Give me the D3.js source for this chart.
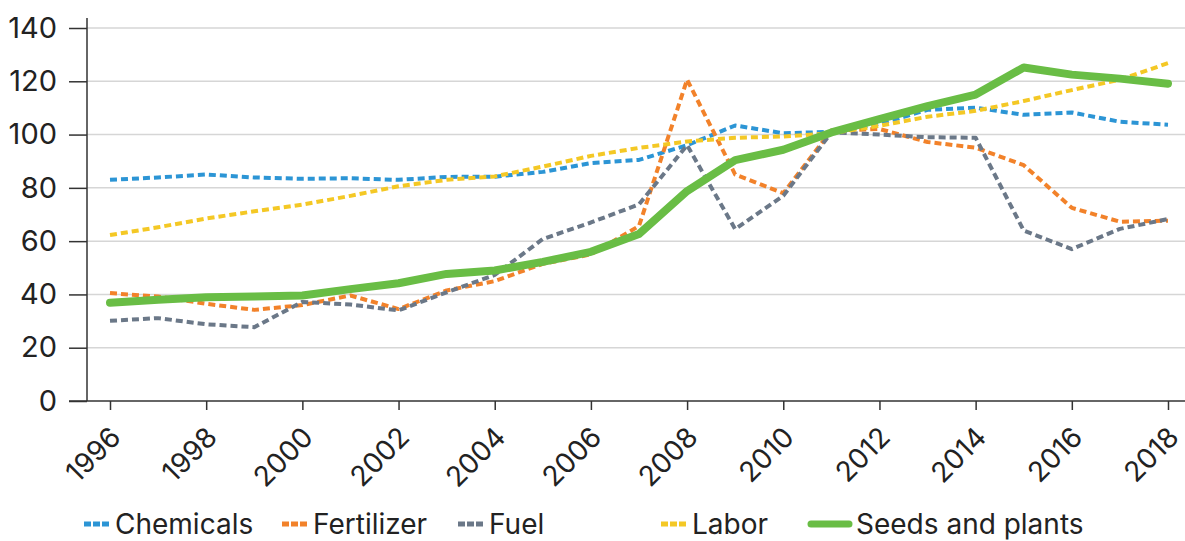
<!DOCTYPE html>
<html>
<head>
<meta charset="utf-8">
<script src="https://cdn.jsdelivr.net/npm/d3@7"></script>
<style>
  html, body { margin: 0; padding: 0; background: #fff; }
  #chart { width: 1185px; height: 541px; }
  text { font-family: Inter, "Noto Sans", sans-serif; fill: #222; }
</style>
</head>
<body>
<div id="chart"></div>
<script>
const years = d3.range(1996, 2019);
const yTicks = [0, 20, 40, 60, 80, 100, 120, 140];
const xTicks = [1996, 1998, 2000, 2002, 2004, 2006, 2008, 2010, 2012, 2014, 2016, 2018];

const seriesNames = ["Chemicals", "Fertilizer", "Fuel", "Labor", "Seeds and plants"];

const chemicals = [83, 83.9, 85, 83.9, 83.4, 83.6, 83, 84.1, 84.2, 86, 89.3, 90.5, 96, 103.4, 100.5, 101, 104, 109.3, 110.1, 107.4, 108.3, 104.8, 103.7];
const fertilizer = [40.5, 39.2, 36.5, 34.2, 36, 39.6, 34.5, 41.5, 45, 51.5, 55, 65.7, 120.6, 85, 78, 101.5, 102.1, 97.2, 95.1, 88.5, 72.5, 67.3, 67.7];
const fuel = [30.1, 31.1, 28.8, 27.7, 37.2, 36.2, 34, 40.8, 47.3, 60.8, 67, 73.8, 96, 64.5, 77, 100.8, 100, 99, 98.8, 64, 57, 64.6, 68.3];
const labor = [62.3, 65.2, 68.5, 71.2, 73.7, 77, 80.6, 83, 84.3, 88, 92, 95, 97.4, 98.8, 99.3, 100.5, 103.3, 106.7, 108.9, 112.6, 116.7, 120.6, 126.8];
const seeds = [36.9, 38, 38.9, 39.2, 39.6, 42, 44.2, 47.7, 49, 52.2, 56, 62.7, 78.8, 90.4, 94.3, 100.8, 105.8, 110.7, 115, 125.2, 122.5, 121, 119.1];

class LineChartD3 {
    width = 1185;
    height = 541;
    svg;

    constructor(el) {
        this.el = el;
    }

    styleFor(name) {
        switch (name) {
            case "Chemicals":
                return {color: "#2c95d5", width: 4, dash: "7,4"};
            case "Fertilizer":
                return {color: "#f2822a", width: 4, dash: "7,4"};
            case "Fuel":
                return {color: "#6b7888", width: 4, dash: "7,4"};
            case "Labor":
                return {color: "#f4c825", width: 4, dash: "7,4"};
            default:
                return {color: "#69bd45", width: 8, dash: null};
        }
    }

    create() {
        this.svg = d3.select(this.el)
            .append("svg")
            .attr("width", this.width)
            .attr("height", this.height);

        this.x = d3.scaleLinear().domain([1996, 2018]).range([110, 1168]);
        this.y = d3.scaleLinear().domain([0, 140]).range([401, 28]);
    }

    render(series) {
        const x = this.x, y = this.y;

        // gridlines across the whole width
        this.svg.append("g")
            .selectAll("line")
            .data(yTicks.filter(d => d > 0))
            .join("line")
            .attr("x1", 87).attr("x2", this.width)
            .attr("y1", d => y(d)).attr("y2", d => y(d))
            .attr("stroke", "#d6d6d6")
            .attr("stroke-width", 1.5);

        // y axis with long outer ticks
        const yAxis = this.svg.append("g")
            .attr("transform", "translate(87,0)")
            .call(d3.axisLeft(y).tickValues(yTicks).tickSize(18).tickPadding(12));
        yAxis.select(".domain").attr("d", `M0,${y(0)}V18`).attr("stroke", "#333").attr("stroke-width", 1.5);
        yAxis.selectAll(".tick line").attr("stroke", "#333").attr("stroke-width", 1.5);
        yAxis.selectAll(".tick text")
            .style("font-size", "29px")
            .style("font-family", "Inter, sans-serif")
            .attr("fill", "#1e1e1e");

        // x axis
        const xAxis = this.svg.append("g")
            .attr("transform", `translate(0,${y(0)})`)
            .call(d3.axisBottom(x).tickValues(xTicks).tickSize(9).tickFormat(d3.format("d")));
        xAxis.select(".domain").attr("d", `M69,0H${this.width}`).attr("stroke", "#333").attr("stroke-width", 1.5);
        xAxis.selectAll(".tick line").attr("stroke", "#333").attr("stroke-width", 1.5);
        xAxis.selectAll(".tick text")
            .attr("text-anchor", "end")
            .attr("y", 0).attr("dy", 0)
            .attr("transform", "translate(12,38) rotate(-45)")
            .style("font-size", "28px")
            .style("font-family", "Inter, sans-serif")
            .attr("fill", "#1e1e1e");

        const line = d3.line()
            .x((d, i) => x(years[i]))
            .y(d => y(d));

        // thin dashed series first, seeds drawn on top
        this.svg.append("g")
            .selectAll("path")
            .data(series)
            .join("path")
            .attr("d", d => line(d.values))
            .attr("fill", "none")
            .attr("stroke", d => this.styleFor(d.name).color)
            .attr("stroke-width", d => this.styleFor(d.name).width)
            .attr("stroke-dasharray", d => this.styleFor(d.name).dash)
            .attr("stroke-linejoin", "round")
            .attr("stroke-linecap", d => this.styleFor(d.name).dash ? "butt" : "round");

        // legend
        const legendX = [84, 282, 458, 661, 811];
        const legend = this.svg.append("g")
            .selectAll("g")
            .data(series)
            .join("g")
            .attr("transform", (d, i) => `translate(${legendX[i]},524)`);

        legend.append("line")
            .attr("x2", d => this.styleFor(d.name).dash ? 25 : 38)
            .attr("stroke", d => this.styleFor(d.name).color)
            .attr("stroke-width", d => this.styleFor(d.name).dash ? 5 : 7)
            .attr("stroke-dasharray", d => this.styleFor(d.name).dash ? "7,2" : null)
            .attr("stroke-linecap", d => this.styleFor(d.name).dash ? "butt" : "round");

        legend.append("text")
            .attr("x", d => this.styleFor(d.name).dash ? 31 : 45)
            .attr("dy", "0.36em")
            .style("font-size", "28px")
            .attr("fill", "#1e1e1e")
            .text(d => d.name);
    }
}

const chart = new LineChartD3(document.getElementById("chart"));
chart.create();
chart.render([
    {name: seriesNames[0], values: chemicals},
    {name: seriesNames[1], values: fertilizer},
    {name: seriesNames[2], values: fuel},
    {name: seriesNames[3], values: labor},
    {name: seriesNames[4], values: seeds}
]);
</script>
</body>
</html>
